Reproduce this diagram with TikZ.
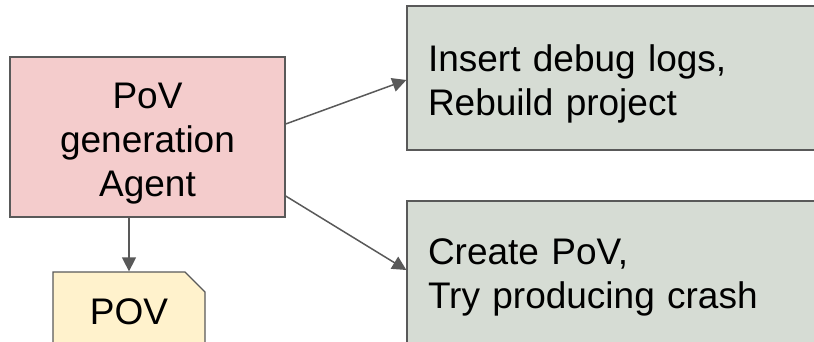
\documentclass[tikz,border=0pt]{standalone}
\usepackage{fontspec}
\setmainfont{Liberation Sans}
\usetikzlibrary{arrows.meta,shapes.misc}

\definecolor{agentred}{HTML}{F4CCCC}
\definecolor{stepgray}{HTML}{D6DCD4}
\definecolor{povyellow}{HTML}{FFF2CC}
\definecolor{edgegray}{HTML}{595959}

\begin{document}
\begin{tikzpicture}[
  x=1pt, y=-1pt,
  font=\fontsize{37}{44}\selectfont,
  agent/.style={draw=edgegray, line width=1.3pt, fill=agentred, align=center,
                text width=260pt, text height=39pt,
                minimum width=275pt, minimum height=160pt, inner sep=0pt},
  stepbox/.style={draw=edgegray, line width=1.3pt, fill=stepgray, align=left,
                  text width=402pt, inner xsep=21pt, inner ysep=0pt},
  doc/.style={chamfered rectangle, chamfered rectangle corners=north east,
              chamfered rectangle xsep=10pt, chamfered rectangle ysep=10pt,
              draw=edgegray, line width=1.3pt, fill=povyellow,
              minimum width=152pt, minimum height=80pt, inner sep=0pt},
  arr/.style={-{Triangle[length=14pt, width=14pt]}, draw=edgegray,
              line width=1.5pt},
]
  \useasboundingbox (0,0) rectangle (814,342);
  \clip (0,0) rectangle (814,342);

  \node[agent] (agent) at (147.5,137) {PoV\\generation\\Agent};

  % both step boxes run past the right edge
  \node[stepbox, text height=39pt, minimum height=144pt] (debug) at (629,78)
    {Insert debug logs,\\Rebuild project};
  \node[stepbox, minimum height=152pt] (crash) at (629,277)
    {Create PoV,\\Try producing crash};

  \node[doc] (pov) at (129,312) {POV};

  \draw[arr] ([yshift=13pt]agent.east) -- ([yshift=-2pt]debug.west);
  \draw[arr] ([yshift=-59pt]agent.east) -- ([yshift=7pt]crash.west);
  \draw[arr] (agent.south -| pov.north) -- (pov.north);
\end{tikzpicture}
\end{document}
